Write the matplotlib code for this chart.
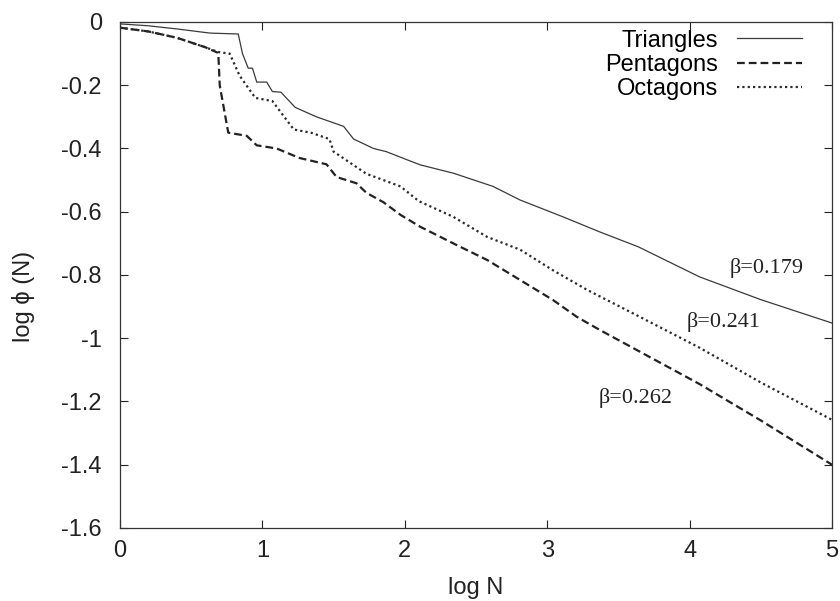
import matplotlib
matplotlib.use('Agg')
import matplotlib.pyplot as plt

plt.rcParams['font.family'] = ['Liberation Sans', 'DejaVu Sans']
plt.rcParams['axes.unicode_minus'] = False

# log N / log phi(N) for the three polygon types
tri_x = [0, 0.2, 0.4, 0.63, 0.83, 0.86, 0.90, 0.93, 0.96, 1.03, 1.07, 1.13, 1.23, 1.38,
         1.57, 1.64, 1.78, 1.87, 2.04, 2.11, 2.34, 2.62, 2.81, 3.11, 3.37, 3.64, 4.07, 4.5, 5.0]
tri_y = [-0.006, -0.012, -0.022, -0.035, -0.038, -0.10, -0.146, -0.146, -0.19, -0.19, -0.22,
         -0.222, -0.27, -0.30, -0.33, -0.37, -0.40, -0.41, -0.44, -0.452, -0.478, -0.52,
         -0.563, -0.616, -0.664, -0.711, -0.806, -0.878, -0.952]

pen_x = [0, 0.2, 0.4, 0.6, 0.69, 0.70, 0.76, 0.89, 0.96, 1.10, 1.26, 1.45, 1.52, 1.66, 1.73,
         1.85, 1.97, 2.11, 2.34, 2.58, 2.81, 3.04, 3.21, 3.37, 4.07, 4.5, 5.0]
pen_y = [-0.018, -0.03, -0.05, -0.08, -0.098, -0.20, -0.35, -0.36, -0.39, -0.40, -0.43, -0.45,
         -0.49, -0.51, -0.54, -0.57, -0.61, -0.648, -0.70, -0.753, -0.816, -0.879, -0.933,
         -0.974, -1.145, -1.26, -1.40]

oct_x = [0, 0.2, 0.4, 0.6, 0.69, 0.77, 0.84, 0.95, 1.07, 1.22, 1.34, 1.47, 1.50, 1.73, 1.97,
         2.08, 2.11, 2.34, 2.58, 2.81, 3.04, 3.28, 3.64, 4.07, 4.5, 5.0]
oct_y = [-0.018, -0.03, -0.05, -0.08, -0.095, -0.10, -0.17, -0.24, -0.25, -0.34, -0.35, -0.37,
         -0.41, -0.48, -0.52, -0.56, -0.569, -0.616, -0.68, -0.72, -0.785, -0.847, -0.93,
         -1.03, -1.14, -1.258]

# slope labels: text, x, y
betas = [('β=0.179', 4.28, -0.778), ('β=0.241', 3.98, -0.949), ('β=0.262', 3.36, -1.189)]

xticks = [0, 1, 2, 3, 4, 5]
yticks = [0, -0.2, -0.4, -0.6, -0.8, -1, -1.2, -1.4, -1.6]
ytick_labels = ['0', '-0.2', '-0.4', '-0.6', '-0.8', '-1', '-1.2', '-1.4', '-1.6']

fig = plt.figure(figsize=(8.4, 6.01), dpi=100)
ax = fig.add_axes([0.1429, 0.1215, 0.8476, 0.8419])

ax.plot(tri_x, tri_y, color='#3a3a3a', lw=0.9, label='Triangles')
ax.plot(pen_x, pen_y, color='#222222', lw=1.6, dashes=(3.5, 1.8), label='Pentagons')
ax.plot(oct_x, oct_y, color='#2a2a2a', lw=1.6, dashes=(1, 1.4), label='Octagons')

for txt, bx, by in betas:
    ax.text(bx, by, txt, family='Liberation Serif', fontsize=16, va='center', ha='left',
            color='#222222')

ax.set_xlim(0, 5)
ax.set_ylim(-1.6, 0)
ax.set_xticks(xticks)
ax.set_xticklabels([str(t) for t in xticks])
ax.set_yticks(yticks)
ax.set_yticklabels(ytick_labels)
ax.tick_params(direction='in', length=6, width=0.8, top=True, right=True, labelsize=17,
               colors='#222222')
ax.tick_params(axis='x', pad=9)
ax.tick_params(axis='y', pad=13)
for s in ax.spines.values():
    s.set_linewidth(0.9)
    s.set_color('#333333')

ax.set_xlabel('log N', fontsize=17, color='#222222')
ax.set_ylabel('log ϕ (N)', fontsize=17, color='#222222')
ax.xaxis.set_label_coords(0.5, -0.097)
ax.yaxis.set_label_coords(-0.12, 0.458)

ax.legend(loc='upper right', bbox_to_anchor=(0.958, 0.985), frameon=False, markerfirst=False,
          fontsize=17, handlelength=2.75, handletextpad=0.8, labelspacing=0.1,
          borderpad=0, borderaxespad=0)

fig.savefig('out.png', dpi=100)
